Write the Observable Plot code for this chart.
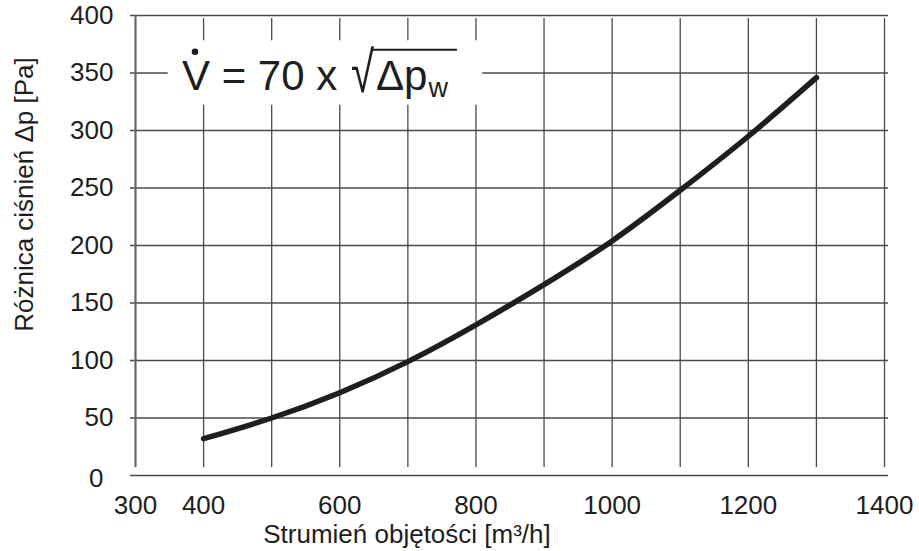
<!DOCTYPE html>
<html><head><meta charset="utf-8">
<script src="https://cdn.jsdelivr.net/npm/d3@7"></script>
<script src="https://cdn.jsdelivr.net/npm/@observablehq/plot@0.6"></script>
<style>html,body{margin:0;padding:0;background:#fff;} svg{display:block;}</style>
</head><body><div id="chart"></div>
<script>
// ---- data ----
const flowTicks = [300, 400, 500, 600, 700, 800, 900, 1000, 1100, 1200, 1300, 1400];
const flowTickLabels = ["300", "400", "", "600", "", "800", "", "1000", "", "1200", "", "1400"];
const pressureTicks = [0, 50, 100, 150, 200, 250, 300, 350, 400];
const flow = [400, 500, 600, 700, 800, 900, 1000, 1100, 1200, 1300];
const pressure = [32, 50, 72, 99, 131, 166, 204, 248, 295, 346];
const xLabel = "Strumień objętości [m³/h]";
const yLabel = "Różnica ciśnień Δp [Pa]";
const formulaMain = "V = 70 x ";
const formulaRoot = "√";
const formulaRad = "Δp";
const formulaSub = "w";

const data = flow.map((f, i) => ({flow: f, dp: pressure[i]}));
const labelOf = new Map(flowTicks.map((t, i) => [t, flowTickLabels[i]]));

const font = "'Liberation Sans', Arial, Helvetica, sans-serif";
const ink = "#1e1e1e";
const grid = "#4a4a4a";

const plot = Plot.plot({
  width: 919, height: 551,
  marginLeft: 135, marginRight: 35, marginTop: 15, marginBottom: 76,
  style: {fontFamily: font, background: "#fff", color: ink},
  x: {domain: [300, 1400]},
  y: {domain: [0, 400]},
  marks: [
    Plot.ruleX(flowTicks, {x: d => d, y1: 0, y2: 400, insetTop: -8, insetBottom: -3, stroke: grid, strokeWidth: 1.3}),
    Plot.ruleY(pressureTicks, {y: d => d, x1: 300, x2: 1400, insetLeft: -5, insetRight: -4, stroke: grid, strokeWidth: 1.3}),
    Plot.ruleX([300], {x: d => d, y1: 0, y2: 400, insetTop: -8, stroke: "#666", strokeWidth: 2}),
    Plot.rect([{x1: 348, x2: 810, y1: 322, y2: 378}], {x1: "x1", x2: "x2", y1: "y1", y2: "y2", fill: "#fff"}),
    Plot.line(data, {x: "flow", y: "dp", curve: "natural", stroke: ink, strokeWidth: 5.5}),
    Plot.axisX({ticks: flowTicks, tickSize: 0, tickPadding: 20, fontSize: 26, label: null, tickFormat: d => labelOf.get(d)}),
    Plot.axisY({ticks: pressureTicks, tickSize: 0, tickPadding: 22, fontSize: 26, label: null, tickFormat: d => d === 0 ? "" : String(d)}),
    Plot.text([0], {x: 300, y: 0, text: d => String(d), dx: -32, dy: 3, textAnchor: "end", fontSize: 26, lineAnchor: "middle", fill: ink}),
    Plot.text([xLabel], {frameAnchor: "bottom", dx: -103, dy: 59, fontSize: 26, textAnchor: "middle", lineAnchor: "middle", fill: ink}),
    Plot.text([yLabel], {frameAnchor: "left", rotate: -90, dx: -111, dy: -51, fontSize: 26, textAnchor: "middle", lineAnchor: "middle", fill: ink})
  ]
});
document.getElementById("chart").appendChild(plot);

// ---- formula annotation, anchored with the plot's scales ----
const sx = plot.scale("x"), sy = plot.scale("y");
const x0 = sx.apply(369), base = sy.apply(335);
const g = d3.select(plot).append("g").attr("font-family", font).attr("fill", ink).attr("text-anchor", "start");
const t1 = g.append("text").attr("x", x0).attr("y", base).attr("font-size", 42).text(formulaMain);
const vW = (() => { const tmp = g.append("text").attr("font-size", 42).text("V"); const w = tmp.node().getComputedTextLength(); tmp.remove(); return w; })();
g.append("circle").attr("cx", x0 + vW / 2 - 1).attr("cy", base - 38).attr("r", 3.3);
let cx = x0 + t1.node().getComputedTextLength() + 2;
const t2 = g.append("text").attr("font-size", 42)
  .attr("transform", `translate(${cx},${base + 2}) scale(1,1.38)`).text(formulaRoot);
cx += t2.node().getComputedTextLength();
const rootEnd = cx;
const t3 = g.append("text").attr("x", cx + 2).attr("y", base).attr("font-size", 42).text(formulaRad);
cx += 2 + t3.node().getComputedTextLength();
const t4 = g.append("text").attr("x", cx + 1).attr("y", base + 7).attr("font-size", 27).text(formulaSub);
cx += 1 + t4.node().getComputedTextLength();
g.append("line").attr("x1", rootEnd - 1.5).attr("x2", cx + 9).attr("y1", base - 40).attr("y2", base - 40)
  .attr("stroke", ink).attr("stroke-width", 2.2);
</script>
</body></html>
